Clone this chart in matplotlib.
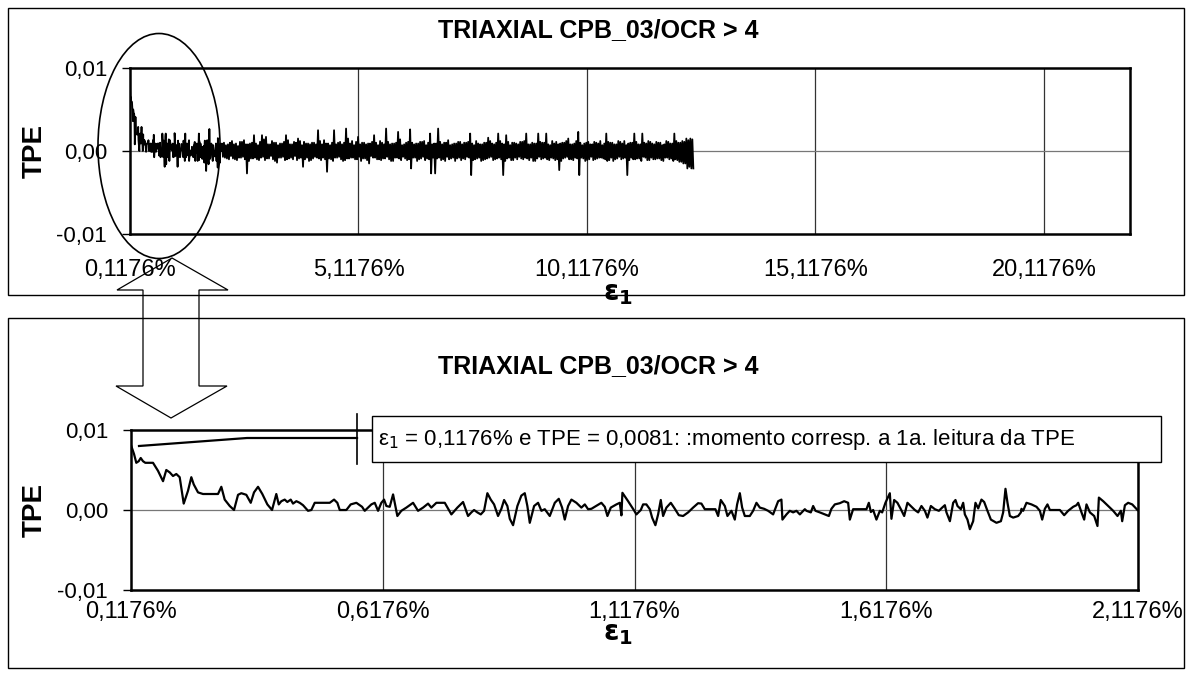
import numpy as np
import matplotlib
matplotlib.use("Agg")
import matplotlib.pyplot as plt
from matplotlib.patches import Rectangle, Ellipse, Polygon

plt.rcParams['font.family'] = ['Liberation Sans', 'DejaVu Sans']
plt.rcParams['mathtext.fontset'] = 'dejavusans'

TITLE = "TRIAXIAL CPB_03/OCR > 4"
NOTE = "ε$_1$ = 0,1176% e TPE = 0,0081: :momento corresp. a 1a. leitura da TPE"

# first 2 % of axial strain (%), TPE readings
eps_zoom = [
    0.1176, 0.1236, 0.1281, 0.1329, 0.1369, 0.1414, 0.1460, 0.1613, 0.1712, 0.1812,
    0.1877, 0.1945, 0.2010, 0.2076, 0.2143, 0.2175, 0.2223, 0.2308, 0.2374, 0.2422,
    0.2507, 0.2606, 0.2904, 0.2970, 0.3037, 0.3137, 0.3222, 0.3302, 0.3367, 0.3466,
    0.3554, 0.3619, 0.3699, 0.3784, 0.3884, 0.3977, 0.4062, 0.4110, 0.4162, 0.4229,
    0.4281, 0.4348, 0.4394, 0.4460, 0.4527,
    0.4593, 0.4692, 0.4758, 0.4825, 0.5123, 0.5209, 0.5274, 0.5322, 0.5453, 0.5540,
    0.5652, 0.5765, 0.5818, 0.5884, 0.5950, 0.6017, 0.6083, 0.6148, 0.6202, 0.6248,
    0.6315, 0.6381, 0.6414, 0.6466, 0.6545, 0.6645, 0.6778, 0.6877, 0.6977, 0.7076,
    0.7141, 0.7241, 0.7408, 0.7539, 0.7658, 0.7771, 0.7870,
    0.7936, 0.7990, 0.8055, 0.8123, 0.8188, 0.8254, 0.8321, 0.8387, 0.8466, 0.8532,
    0.8586, 0.8651, 0.8699, 0.8764, 0.8850, 0.8929, 0.8997, 0.9048, 0.9096, 0.9182,
    0.9261, 0.9327, 0.9394, 0.9493, 0.9593, 0.9672, 0.9738, 0.9791, 0.9857, 0.9923,
    1.0022, 1.0121, 1.0189, 1.0254, 1.0320, 1.0518, 1.0586, 1.0638, 1.0705, 1.0817,
    1.0884, 1.0916, 1.0936, 1.1049, 1.1162, 1.1214,
    1.1301, 1.1347, 1.1412, 1.1480, 1.1526, 1.1591, 1.1645, 1.1698, 1.1744, 1.1810,
    1.1897, 1.1977, 1.2056, 1.2141, 1.2241, 1.2340, 1.2439, 1.2505, 1.2572, 1.2783,
    1.2837, 1.2890, 1.2970, 1.3022, 1.3101, 1.3168, 1.3214, 1.3268, 1.3314, 1.3367,
    1.3466, 1.3532, 1.3598, 1.3665, 1.3750, 1.3830, 1.3929, 1.4029, 1.4094, 1.4114,
    1.4194, 1.4261, 1.4327, 1.4392, 1.4460, 1.4559, 1.4591,
    1.4678, 1.4724, 1.4770, 1.4857, 1.4956, 1.5036, 1.5087, 1.5155, 1.5254, 1.5340,
    1.5419, 1.5453, 1.5518, 1.5783, 1.5830, 1.5870, 1.5916, 1.5981, 1.6049, 1.6095,
    1.6160, 1.6247, 1.6279, 1.6333, 1.6398, 1.6466, 1.6532, 1.6597, 1.6677, 1.6744,
    1.6810, 1.6875, 1.6943, 1.6994, 1.7062, 1.7141, 1.7221, 1.7287, 1.7340, 1.7372,
    1.7440, 1.7505, 1.7551, 1.7591, 1.7658, 1.7704, 1.7737, 1.7789, 1.7837, 1.7902,
    1.7948, 1.8002,
    1.8067, 1.8121, 1.8186, 1.8254, 1.8365, 1.8453, 1.8498, 1.8544, 1.8584, 1.8631,
    1.8697, 1.8796, 1.8850, 1.8862, 1.8895, 1.8961, 1.9060, 1.9160, 1.9227, 1.9273,
    1.9326, 1.9378, 1.9426, 1.9625, 1.9710, 1.9789, 1.9889, 1.9954, 1.9988, 2.0054,
    2.0107, 2.0153, 2.0221, 2.0306, 2.0371, 2.0399, 2.0485, 2.0584, 2.0683, 2.0769,
    2.0836, 2.0862, 2.0916, 2.0981, 2.1061, 2.1166,
]
tpe_zoom = [
    0.0081, 0.0070, 0.0059, 0.0061, 0.0065, 0.0061, 0.0059, 0.0059, 0.0049, 0.0036,
    0.0050, 0.0047, 0.00425, 0.0045, 0.0041, 0.0028, 0.0008, 0.0024, 0.0041, 0.0032,
    0.0022, 0.0020, 0.0020, 0.0029, 0.0013, 0.0005, 0.0000, 0.0019, 0.0021, 0.0019,
    0.0009, 0.0022, 0.0029, 0.0020, 0.0007, 0.0000, 0.0020, 0.0007, 0.0011, 0.0013,
    0.0010, 0.0013, 0.0008, 0.0011, 0.0009,
    0.0006, -0.0001, 0.0000, 0.0009, 0.0009, 0.0013, 0.0009, 0.0000, 0.0000, 0.0007,
    0.0009, 0.0004, -0.0001, 0.0003, 0.0007, 0.0009, -0.0001, 0.0009, 0.0013, 0.0005,
    0.0004, 0.00195, 0.0009, -0.00075, -0.0001, 0.0003, 0.0009, -0.0001, 0.0003, 0.0008,
    0.0003, 0.0009, 0.0009, -0.00055, 0.0003, 0.0010, -0.00075,
    -0.0003, 0.0000, -0.0003, -0.00055, -0.0001, 0.0021, 0.0013, 0.0007, -0.00075, 0.00015,
    0.00125, 0.0005, -0.0011, -0.0019, 0.0005, 0.0018, 0.0021, 0.0005, -0.0016, 0.0005,
    0.0009, -0.0001, 0.0001, -0.00075, 0.0009, 0.0014, 0.0003, -0.0012, 0.0005, 0.0013,
    0.0009, 0.0003, 0.0007, 0.0001, 0.00015, 0.0009, 0.0004, -0.00075, 0.0003, 0.0007,
    0.0009, -0.00067, 0.00215, 0.0011, 0.0000, -0.00055,
    0.0000, 0.0007, 0.0007, 0.0001, -0.00095, -0.0019, -0.00055, 0.00125, -0.00075, 0.0003,
    0.0009, 0.00015, -0.00065, -0.00075, -0.0003, 0.0003, 0.00085, 0.0008, 0.0001, 0.0001,
    -0.00075, 0.00125, 0.0005, -0.00075, -0.0001, -0.0012, 0.0007, 0.0021, 0.0003, -0.00075,
    -0.00075, -0.0001, 0.0009, 0.0003, 0.00015, -0.0001, -0.00055, 0.0011, 0.0013, -0.0012,
    -0.00055, -0.0001, -0.0003, -0.0001, -0.00055, 0.0001, -0.0001,
    -0.0003, 0.0005, -0.0001, -0.0003, -0.00055, -0.00075, 0.00015, 0.0007, 0.00085, 0.0011,
    0.0009, -0.0012, 0.0001, 0.0001, 0.0009, -0.00025, 0.0000, -0.0012, -0.0001, -0.0003,
    0.0009, 0.0021, -0.0011, 0.00125, 0.0009, 0.0001, -0.00075, 0.0009, 0.0004, 0.0000,
    -0.0003, 0.0005, -0.0001, -0.00095, 0.0005, 0.0001, -0.0001, 0.0003, 0.0006, -0.0003,
    -0.0014, 0.0009, 0.00125, 0.0005, 0.0001, 0.0009, -0.00055, -0.0012, -0.0024, -0.0014,
    0.0009, 0.0002,
    0.0013, 0.0010, -0.0001, -0.0012, -0.0016, -0.0014, -0.0003, 0.00265, 0.0009, -0.00075,
    -0.00095, -0.00075, -0.0003, 0.00015, -0.0001, 0.0009, 0.0007, 0.0004, -0.0001, -0.0012,
    0.00015, 0.0007, 0.0000, 0.0000, -0.00065, -0.0001, 0.0004, 0.0006, 0.0009, -0.0003,
    -0.0012, 0.0007, -0.0003, -0.00075, -0.0020, 0.00155, 0.0011, 0.0005, -0.0001, -0.00075,
    -0.0001, -0.0014, 0.0006, 0.0009, 0.0007, 0.0000,
]

# remainder of the test up to ~12,4 %, four readings per group:
# high, low, high, low (units of 1e-4)
ext_start, ext_step = 2.13, 0.0219
tpe_hi_e4 = [
    9, 7, 10, 8, 6, 11, 8, 9, 19, 7, 19, 17, 8, 10, 7, 9, 19, 8, 11, 15,
    7, 9, 8, 10, 25, 8, 9, 7, 25, 10, 8, 27, 9, 7, 17, 10, 8, 9, 19, 7,
    10, 27, 8, 9, 23, 7, 10, 26, 8, 9, 11, 7, 21, 9, 27, 8, 10, 7, 9, 11,
    8, 10, 21, 7, 9, 8, 10, 12, 8, 21, 9, 19, 7, 10, 8, 11, 21, 8, 9, 21,
    10, 21, 7, 9, 8, 10, 12, 8, 9, 23, 7, 10, 8, 11, 9, 7, 21, 10, 8, 12,
    9, 7, 10, 21, 8, 21, 9, 11, 8, 10, 7, 12, 9, 21, 10, 12, 15, 15,
]
tpe_lo_e4 = [
    -7, -9, -6, -10, -8, -7, -27, -9, -8, -11, -7, -9, -6, -12, -8, -7, -10, -8, -6, -9,
    -19, -8, -11, -7, -9, -8, -25, -10, -8, -7, -12, -9, -8, -10, -7, -9, -11, -6, -8, -10,
    -9, -7, -12, -8, -9, -7, -11, -21, -8, -10, -7, -9, -27, -27, -8, -10, -7, -9, -12, -8,
    -9, -7, -29, -10, -8, -11, -9, -7, -10, -8, -29, -9, -11, -8, -7, -10, -9, -8, -12, -7,
    -9, -10, -8, -11, -23, -9, -7, -10, -8, -29, -9, -11, -7, -10, -8, -9, -12, -8, -10, -7,
    -9, -29, -8, -10, -9, -7, -11, -8, -10, -9, -12, -8, -9, -10, -13, -15, -21, -21,
]
tpe_hi2_e4 = [
    10, 8, 12, 9, 11, 13, 8, 10, 9, 11, 14, 8, 12, 10, 9, 11, 13, 8, 10, 12,
    11, 9, 10, 8, 12, 13, 9, 10, 8, 11, 10, 15, 12, 11, 8, 10, 9, 11, 10, 12,
    8, 11, 9, 10, 14, 8, 11, 10, 9, 11, 12, 10, 8, 9, 11, 10, 13, 8, 9, 11,
    10, 11, 9, 12, 8, 10, 16, 9, 10, 12, 8, 11, 10, 9, 11, 12, 8, 10, 9, 11,
    10, 8, 12, 11, 9, 10, 15, 8, 12, 10, 9, 11, 8, 10, 12, 9, 11, 10, 8, 11,
    12, 9, 10, 11, 8, 10, 12, 9, 11, 10, 8, 11, 9, 12, 10, 11, 13, 14,
]
tpe_lo2_e4 = [
    -8, -10, -9, -11, -8, -10, -12, -9, -10, -8, -11, -9, -10, -14, -8, -11, -9, -10, -11, -8,
    -10, -12, -9, -8, -11, -10, -9, -12, -8, -10, -11, -9, -8, -10, -12, -9, -15, -8, -10, -11,
    -9, -10, -12, -8, -11, -9, -10, -8, -12, -9, -11, -10, -8, -9, -11, -12, -10, -8, -9, -11,
    -10, -8, -11, -9, -12, -10, -8, -11, -9, -10, -12, -8, -11, -10, -9, -8, -11, -12, -9, -10,
    -8, -11, -9, -10, -12, -8, -10, -11, -9, -8, -12, -10, -11, -9, -8, -10, -11, -12, -9, -10,
    -8, -11, -10, -9, -12, -8, -11, -10, -9, -11, -8, -10, -12, -11, -13, -15, -19, -21,
]

top_ticks = [0.1176, 5.1176, 10.1176, 15.1176, 20.1176]
bot_ticks = [0.1176, 0.6176, 1.1176, 1.6176, 2.1176]
y_ticks = [-0.01, 0.0, 0.01]
y_labels = ["-0,01", "0,00", "0,01"]

W, H = 1192, 680


def fx(px):
    return px / W


def fy(py):
    return 1 - py / H


def pct(v):
    return f"{v:.4f}".replace(".", ",") + "%"


def style_axes(ax, xlim, ticks, xpad):
    ax.set_xlim(*xlim)
    ax.set_ylim(-0.01, 0.01)
    ax.set_yticks(y_ticks)
    ax.set_yticklabels(y_labels)
    ax.set_xticks(ticks)
    ax.set_xticklabels([pct(t) for t in ticks])
    ax.tick_params(axis='y', length=5.5, width=1, pad=11, labelsize=16)
    ax.tick_params(axis='x', length=0, pad=xpad, labelsize=17)
    for t in ticks[1:]:
        ax.axvline(t, color='#333333', lw=0.9, zorder=1)
    ax.axhline(0, color='#777777', lw=0.9, zorder=1)
    for s in ax.spines.values():
        s.set_linewidth(1.8)
        s.set_color('black')
    ax.set_facecolor('white')


fig = plt.figure(figsize=(W / 100, H / 100), dpi=100)

# panel frames
for y0, y1 in [(8, 295), (318, 668)]:
    fig.patches.append(Rectangle((fx(8), fy(y1)), (1184 - 8) / W, (y1 - y0) / H,
                                 transform=fig.transFigure, fill=False,
                                 ec='black', lw=1.0))

ax_top = fig.add_axes([fx(130), fy(234), (1130 - 130) / W, (234 - 68) / H])
ax_bot = fig.add_axes([fx(131), fy(590), (1138 - 131) / W, (590 - 430) / H])

# full test
tpe_ext = np.column_stack([tpe_hi_e4, tpe_lo_e4, tpe_hi2_e4, tpe_lo2_e4]).ravel() * 1e-4
eps_ext = ext_start + ext_step * np.arange(len(tpe_ext))
eps_full = np.concatenate([eps_zoom, eps_ext])
tpe_full = np.concatenate([tpe_zoom, tpe_ext])
style_axes(ax_top, (0.1176, 22.0), top_ticks, 18)
ax_top.plot(eps_full, tpe_full, color='black', lw=1.3, zorder=3)

# first 2 %
style_axes(ax_bot, (0.1176, 2.1176), bot_ticks, 8)
ax_bot.plot(eps_zoom, tpe_zoom, color='black', lw=1.6, zorder=3)

# titles and axis names
for py in (30, 366):
    fig.text(fx(598), fy(py), TITLE, ha='center', va='center',
             fontsize=18, fontweight='bold')
for py in (151, 510):
    fig.text(fx(35), fy(py), "TPE", ha='center', va='center', rotation=90,
             fontsize=20, fontweight='bold')
for py in (294, 634):
    fig.text(fx(618), fy(py), r"$\mathbf{\varepsilon_1}$", ha='center', va='center',
             fontsize=20)

# callout for the first reading
ax_bot.plot([0.1335, 0.348, 0.5665], [0.0080, 0.0090, 0.0090], color='black',
            lw=1.6, clip_on=False, zorder=4)
ax_bot.plot([0.5665, 0.5665], [0.0058, 0.01195], color='black', lw=1.2,
            clip_on=False, zorder=4)
fig.patches.append(Rectangle((fx(372), fy(462)), (1161 - 372) / W, (462 - 416) / H,
                             transform=fig.transFigure, fc='white', ec='black',
                             lw=1.0, zorder=5))
fig.text(fx(378), fy(439), NOTE, ha='left', va='center', fontsize=16, zorder=6)

# zoom marker and hollow double arrow
fig.patches.append(Ellipse((fx(159), fy(146)), 122 / W, 225 / H,
                           transform=fig.transFigure, fill=False, ec='black', lw=1.2))
arrow_px = [(172, 258), (228, 290), (199, 290), (199, 386), (227, 386), (171, 418),
            (116, 386), (143, 386), (143, 290), (117, 290)]
fig.patches.append(Polygon([(fx(x), fy(y)) for x, y in arrow_px], closed=True,
                           transform=fig.transFigure, fill=False, ec='black', lw=0.9))

fig.savefig("out.png", dpi=100)
